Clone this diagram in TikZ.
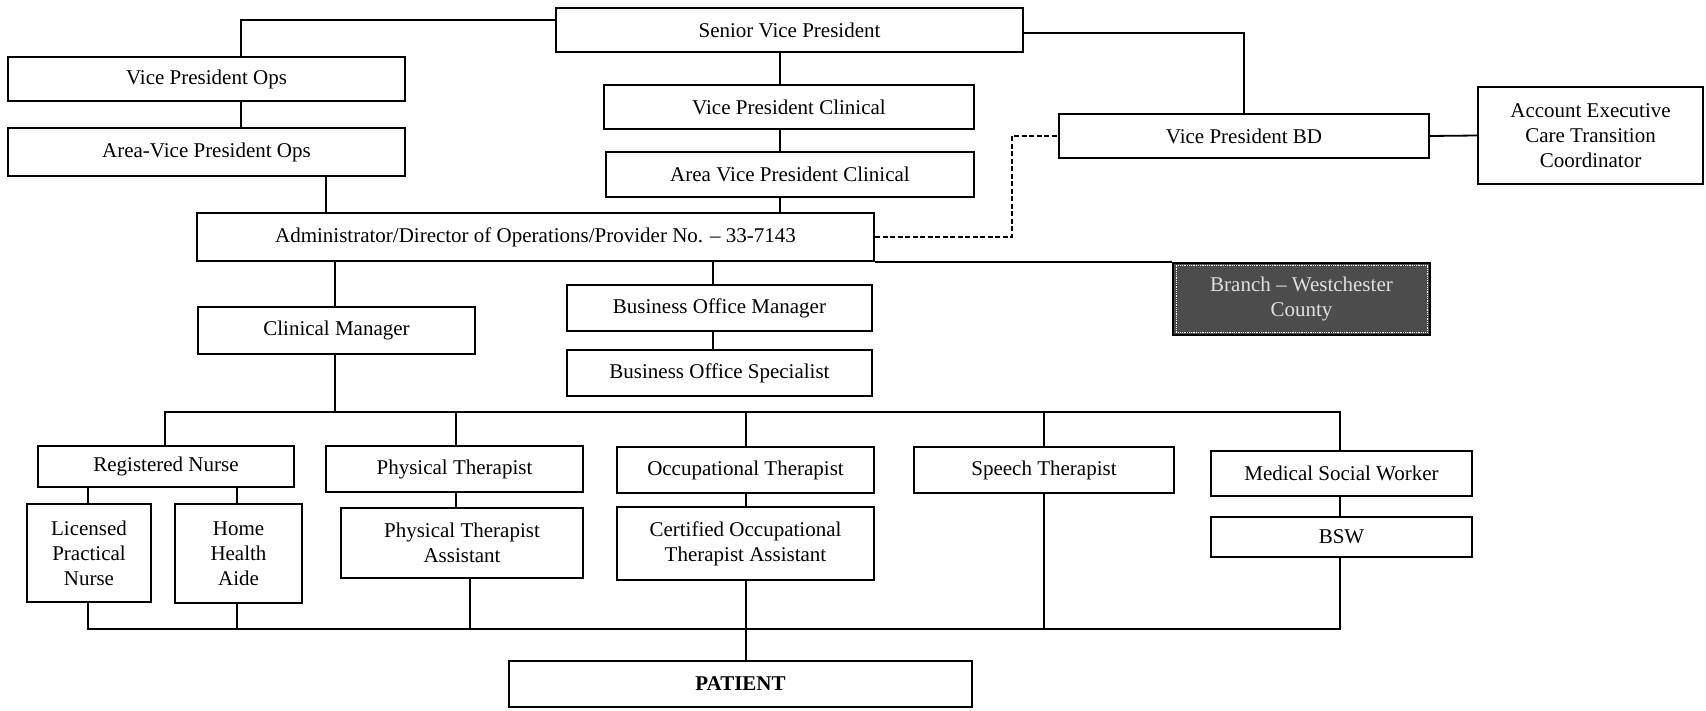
\documentclass[tikz,border=0pt]{standalone}
\usepackage{fontspec}
\setmainfont{Liberation Serif}
\usetikzlibrary{calc}
\begin{document}
\begin{tikzpicture}[x=1pt,y=-1pt,
  box/.style={draw, line width=2.2pt, inner sep=2pt, align=center,
              font=\fontsize{21}{25}\selectfont},
  conn/.style={line width=1.8pt},
  dconn/.style={line width=1.8pt, dash pattern=on 5pt off 2.5pt},
  darkbox/.style={box, fill=black!70, text=white!88!black, draw=black}]
\fill[white] (0,0) rectangle (1706,711);
\useasboundingbox (0,0) rectangle (1706,711);

% nodes
\node[box, minimum width=467, minimum height=44] (svp) at (789.5,30) {Senior Vice President};
\node[box, minimum width=397, minimum height=44] (vpops) at (206.5,79) {Vice President Ops};
\node[box, minimum width=397, minimum height=48] (avpops) at (206.5,152) {Area-Vice President Ops};
\node[box, minimum width=370, minimum height=44] (vpclin) at (789,107) {Vice President Clinical};
\node[box, minimum width=368, minimum height=45] (avpclin) at (790,174.5) {Area Vice President Clinical};
\node[box, minimum width=370, minimum height=44] (vpbd) at (1244,136) {Vice President BD};
\node[box, minimum width=225, minimum height=97] (acct) at (1590.5,135.5) {Account Executive\\Care Transition\\Coordinator};
\node[box, minimum width=677, minimum height=48] (admin) at (535.5,237) {Administrator/Director of Operations/Provider No. – 33-7143};
\node[darkbox, minimum width=257, minimum height=72] (branch) at (1301.5,299) {Branch – Westchester\\County};
\draw[white, densely dotted, line width=0.8pt] ([xshift=4pt,yshift=-4pt]branch.north west) rectangle ([xshift=-4pt,yshift=4pt]branch.south east);
\node[box, minimum width=277, minimum height=47] (clinmgr) at (336.5,330.5) {Clinical Manager};
\node[box, minimum width=305, minimum height=46] (bom) at (719.5,308) {Business Office Manager};
\node[box, minimum width=305, minimum height=46] (bos) at (719.5,373) {Business Office Specialist};
\node[box, minimum width=256, minimum height=41] (rn) at (166,466.5) {Registered Nurse};
\node[box, minimum width=257, minimum height=46] (pt) at (454.5,469) {Physical Therapist};
\node[box, minimum width=257, minimum height=46] (ot) at (745.5,470) {Occupational Therapist};
\node[box, minimum width=260, minimum height=46] (st) at (1044,470) {Speech Therapist};
\node[box, minimum width=261, minimum height=45] (msw) at (1341.5,473.5) {Medical Social Worker};
\node[box, minimum width=124, minimum height=98] (lpn) at (89,553) {Licensed\\Practical\\Nurse};
\node[box, minimum width=127, minimum height=99] (hha) at (238.5,553.5) {Home\\Health\\Aide};
\node[box, minimum width=242, minimum height=70] (pta) at (462,543) {Physical Therapist\\Assistant};
\node[box, minimum width=257, minimum height=73] (cota) at (745.5,543.5) {Certified Occupational\\Therapist Assistant};
\node[box, minimum width=261, minimum height=40] (bsw) at (1341.5,537) {BSW};
\node[box, minimum width=463, minimum height=46] (patient) at (740.5,684) {\textbf{PATIENT}};

% column / bus coordinates
\coordinate (cA) at (241,0);
\coordinate (cB) at (326,0);
\coordinate (cC) at (780,0);
\coordinate (cD) at (1244,0);
\coordinate (cE) at (335,0);
\coordinate (cF) at (713,0);
\coordinate (cG) at (1012,0);
\coordinate (cRN) at (165,0);
\coordinate (cPT) at (456,0);
\coordinate (cOT) at (746,0);
\coordinate (cST) at (1044,0);
\coordinate (cMSW) at (1340,0);
\coordinate (cLPN) at (88,0);
\coordinate (cHHA) at (237,0);
\coordinate (cPTA) at (470,0);
\coordinate (bus1) at (0,412);
\coordinate (bus2) at (0,629);

% connectors
\draw[conn] ([yshift=10pt]svp.west) -| (cA |- vpops.north);
\draw[conn] (cA |- vpops.south) -- (cA |- avpops.north);
\draw[conn] (cB |- avpops.south) -- (cB |- admin.north);
\draw[conn] (cC |- svp.south) -- (cC |- vpclin.north);
\draw[conn] (cC |- vpclin.south) -- (cC |- avpclin.north);
\draw[conn] (cC |- avpclin.south) -- (cC |- admin.north);
\draw[conn] ([yshift=-3pt]svp.east) -| (cD |- vpbd.north);
\draw[conn] (vpbd.east) -- (acct.west);
\draw[dconn] (admin.east) -| (cG |- vpbd.west) -- (vpbd.west);
\draw[conn] (admin.south east) -- (branch.north west);
\draw[conn] (cE |- admin.south) -- (cE |- clinmgr.north);
\draw[conn] (cF |- admin.south) -- (cF |- bom.north);
\draw[conn] (cF |- bom.south) -- (cF |- bos.north);
\draw[conn] (cE |- clinmgr.south) -- (cE |- bus1);
\draw[conn] (cRN |- rn.north) |- (cMSW |- bus1) -- (cMSW |- msw.north);
\draw[conn] (cPT |- bus1) -- (cPT |- pt.north);
\draw[conn] (cOT |- bus1) -- (cOT |- ot.north);
\draw[conn] (cST |- bus1) -- (cST |- st.north);
\draw[conn] (cLPN |- rn.south) -- (cLPN |- lpn.north);
\draw[conn] (cHHA |- rn.south) -- (cHHA |- hha.north);
\draw[conn] (cPT |- pt.south) -- (cPT |- pta.north);
\draw[conn] (cOT |- ot.south) -- (cOT |- cota.north);
\draw[conn] (cMSW |- msw.south) -- (cMSW |- bsw.north);
\draw[conn] (cLPN |- lpn.south) |- (cMSW |- bus2) -- (cMSW |- bsw.south);
\draw[conn] (cHHA |- hha.south) -- (cHHA |- bus2);
\draw[conn] (cPTA |- pta.south) -- (cPTA |- bus2);
\draw[conn] (cST |- st.south) -- (cST |- bus2);
\draw[conn] (cOT |- cota.south) -- (cOT |- patient.north);
\end{tikzpicture}
\end{document}
